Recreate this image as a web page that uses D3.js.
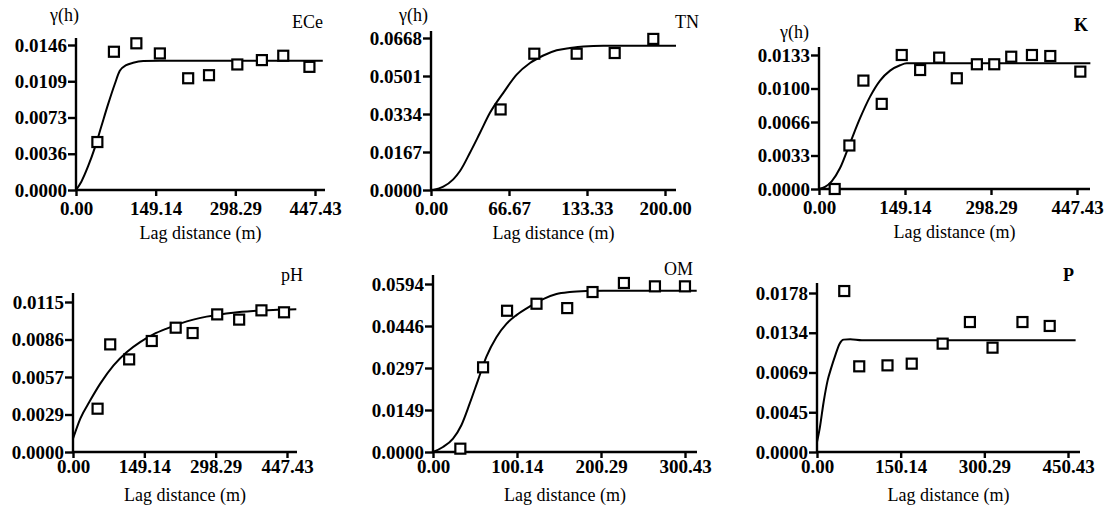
<!DOCTYPE html>
<html>
<head>
<meta charset="utf-8">
<script src="https://cdn.jsdelivr.net/npm/d3@7"></script>
<style>
  body { margin: 0; background: #fff; }
  svg { display: block; }
  text { font-family: "Liberation Serif", "Times New Roman", serif; fill: #000; }
  .tick text { font-size: 19px; font-weight: bold; }
  .tick line { stroke: #000; stroke-width: 2.4; }
</style>
</head>
<body>
<svg id="canvas" width="1109" height="508"></svg>
<script>
// ECe
let eceLag = [40, 71, 113, 157, 210, 249, 302, 348, 388, 437];
let eceGamma = [0.00483, 0.01392, 0.01477, 0.01375, 0.01125, 0.01156, 0.01264, 0.01308, 0.01352, 0.01240];
let eceFitLag = [0, 10, 22.5, 35, 47.5, 60, 72.5, 82, 94, 107, 126, 157, 462];
let eceFitGamma = [0, 0.00084, 0.00237, 0.00422, 0.00642, 0.00862, 0.01065, 0.0120, 0.01257, 0.01281, 0.01298, 0.01301, 0.01301];
let eceXTicks = ['0.00', '149.14', '298.29', '447.43'];
let eceYTicks = ['0.0000', '0.0036', '0.0073', '0.0109', '0.0146'];

// TN
let tnLag = [59.5, 88.3, 124.5, 157, 190];
let tnGamma = [0.0354, 0.0599, 0.0599, 0.0602, 0.0664];
let tnFitLag = [2, 10.5, 19, 24.8, 33.3, 41.9, 50.4, 61.8, 73.2, 84.6, 96, 107.4, 118.8, 130.2, 147.3, 209.4];
let tnFitGamma = [0, 0.00146, 0.00468, 0.00833, 0.01637, 0.02514, 0.0339, 0.0427, 0.0507, 0.0558, 0.0591, 0.0614, 0.0624, 0.0631, 0.0634, 0.0634];
let tnXTicks = ['0.00', '66.67', '133.33', '200.00'];
let tnYTicks = ['0.0000', '0.0167', '0.0334', '0.0501', '0.0668'];

// K
let kLag = [27.2, 52.7, 77, 108.8, 143.5, 175.4, 208.4, 239, 273.8, 303.9, 333.4, 369.3, 401.1, 453.2];
let kGamma = [0, 0.00432, 0.01076, 0.00845, 0.0133, 0.01181, 0.01304, 0.01099, 0.01238, 0.01238, 0.01313, 0.0133, 0.0132, 0.01165];
let kFitLag = [0, 10.4, 22, 36.5, 53.8, 71.2, 88.6, 105.9, 123.3, 140.6, 152.2, 470.6];
let kFitGamma = [0, 0.0002, 0.00076, 0.00208, 0.00455, 0.00703, 0.00917, 0.01076, 0.01175, 0.01228, 0.01247, 0.01247];
let kXTicks = ['0.00', '149.14', '298.29', '447.43'];
let kYTicks = ['0.0000', '0.0033', '0.0066', '0.0100', '0.0133'];

// pH
let phLag = [51.4, 77.8, 117.4, 164.7, 214.7, 250.1, 301.5, 347.4, 394, 441.2];
let phGamma = [0.00332, 0.00825, 0.0071, 0.00851, 0.00953, 0.00912, 0.01055, 0.01015, 0.01086, 0.01071];
let phFitLag = [0, 15.3, 36.1, 57, 84.8, 112.6, 140.3, 168.1, 195.9, 223.7, 251.5, 279.3, 307.1, 334.9, 376.6, 418.3, 466.9];
let phFitGamma = [0.00102, 0.00256, 0.00396, 0.00524, 0.00664, 0.00767, 0.00843, 0.00902, 0.00946, 0.00984, 0.01015, 0.01038, 0.01055, 0.01068, 0.01081, 0.01089, 0.01094];
let phXTicks = ['0.00', '149.14', '298.29', '447.43'];
let phYTicks = ['0.0000', '0.0029', '0.0057', '0.0086', '0.0115'];

// OM
let omLag = [32.6, 59.7, 88.3, 123.4, 160, 190.2, 227.6, 264.6, 300.4];
let omGamma = [0.00118, 0.02994, 0.04994, 0.05242, 0.05088, 0.05656, 0.05976, 0.05857, 0.05857];
let omFitLag = [0, 11.9, 23.9, 33.8, 43.8, 53.7, 63.7, 75.6, 87.5, 99.5, 115.4, 131.3, 147.2, 163.2, 183, 203, 314.4];
let omFitGamma = [0, 0.00177, 0.00473, 0.00947, 0.01716, 0.02544, 0.03372, 0.04059, 0.04532, 0.0484, 0.05147, 0.05408, 0.05585, 0.05656, 0.05692, 0.05703, 0.05703];
let omXTicks = ['0.00', '100.14', '200.29', '300.43'];
let omYTicks = ['0.0000', '0.0149', '0.0297', '0.0446', '0.0594'];

// P
let pLag = [48.9, 75.8, 126.5, 170, 225.5, 274.4, 315, 368.7, 417.6];
let pGamma = [0.01802, 0.00959, 0.0097, 0.00989, 0.01213, 0.01455, 0.01168, 0.01455, 0.01411];
let pFitLag = [0, 4.8, 11.9, 19.1, 25.1, 32.8, 40.6, 47.7, 59.7, 80.5, 464.1];
let pFitGamma = [0.00112, 0.00261, 0.0056, 0.00802, 0.00933, 0.01082, 0.01213, 0.01258, 0.01261, 0.0125, 0.0125];
let pXTicks = ['0.00', '150.14', '300.29', '450.43'];
let pYTicks = ['0.0000', '0.0045', '0.0069', '0.0134', '0.0178'];

let panels = [
  { name: 'ECe', lag: eceLag, gamma: eceGamma, fitLag: eceFitLag, fitGamma: eceFitGamma, xTicks: eceXTicks, yTicks: eceYTicks, yMax: 0.0146 },
  { name: 'TN', lag: tnLag, gamma: tnGamma, fitLag: tnFitLag, fitGamma: tnFitGamma, xTicks: tnXTicks, yTicks: tnYTicks, yMax: 0.0668 },
  { name: 'K', lag: kLag, gamma: kGamma, fitLag: kFitLag, fitGamma: kFitGamma, xTicks: kXTicks, yTicks: kYTicks, yMax: 0.0133 },
  { name: 'pH', lag: phLag, gamma: phGamma, fitLag: phFitLag, fitGamma: phFitGamma, xTicks: phXTicks, yTicks: phYTicks, yMax: 0.0115 },
  { name: 'OM', lag: omLag, gamma: omGamma, fitLag: omFitLag, fitGamma: omFitGamma, xTicks: omXTicks, yTicks: omYTicks, yMax: 0.0594 },
  { name: 'P', lag: pLag, gamma: pGamma, fitLag: pFitLag, fitGamma: pFitGamma, xTicks: pXTicks, yTicks: pYTicks, yMax: 0.0178 }
];

// where each panel sits on the page
let layout = [
  { x0: 76, x1: 315, xEnd: 325, y0: 190, y1: 45, yTop: 38, pad: 6, gx: 79, gy: 21, tx: 323, ty: 28, bold: false },
  { x0: 431, x1: 665, xEnd: 676, y0: 190, y1: 38, yTop: 31, pad: 6, gx: 428, gy: 21, tx: 699, ty: 28, bold: false },
  { x0: 819, x1: 1077, xEnd: 1090, y0: 189, y1: 55, yTop: 47, pad: 6, gx: 809, gy: 38, tx: 1088, ty: 31, bold: true },
  { x0: 73, x1: 287, xEnd: 297, y0: 452, y1: 302, yTop: 293, pad: 2, tx: 303, ty: 281, bold: false },
  { x0: 433, x1: 685, xEnd: 697, y0: 452, y1: 284, yTop: 275, pad: 2, tx: 693, ty: 275, bold: false },
  { x0: 817, x1: 1068, xEnd: 1080, y0: 452, y1: 293, yTop: 283, pad: 2, tx: 1074, ty: 281, bold: true }
];

let canvas = d3.select('#canvas');

let drawPanel = (p, pos) => {
  let xMax = parseFloat(p.xTicks[p.xTicks.length - 1]);
  let xScale = d3.scaleLinear().domain([0, xMax]).range([pos.x0, pos.x1]);
  let yScale = d3.scaleLinear().domain([0, p.yMax]).range([pos.y0, pos.y1]);

  let g = canvas.append('g');

  let xVals = p.xTicks.map((t) => parseFloat(t));
  let yVals = p.yTicks.map((t, i) => p.yMax * i / (p.yTicks.length - 1));

  let xAxis = d3.axisBottom(xScale)
    .tickValues(xVals)
    .tickFormat((d, i) => p.xTicks[i])
    .tickSize(6)
    .tickPadding(pos.pad);
  let yAxis = d3.axisLeft(yScale)
    .tickValues(yVals)
    .tickFormat((d, i) => p.yTicks[i])
    .tickSize(8)
    .tickPadding(1);

  g.append('g')
    .attr('transform', 'translate(0,' + pos.y0 + ')')
    .call(xAxis)
    .attr('font-family', null)
    .attr('font-size', null)
    .call((a) => a.select('.domain').remove());
  g.append('g')
    .attr('transform', 'translate(' + pos.x0 + ',0)')
    .call(yAxis)
    .attr('font-family', null)
    .attr('font-size', null)
    .call((a) => a.select('.domain').remove());

  g.append('line')
    .attr('x1', pos.x0).attr('x2', pos.xEnd)
    .attr('y1', pos.y0).attr('y2', pos.y0)
    .attr('stroke', '#000').attr('stroke-width', 2.4);
  g.append('line')
    .attr('x1', pos.x0).attr('x2', pos.x0)
    .attr('y1', pos.y0).attr('y2', pos.yTop)
    .attr('stroke', '#000').attr('stroke-width', 2.4);

  let fit = p.fitLag.map((h, i) => [h, p.fitGamma[i]]);
  let line = d3.line()
    .x((d) => xScale(d[0]))
    .y((d) => yScale(d[1]))
    .curve(d3.curveMonotoneX);
  g.append('path')
    .attr('d', line(fit))
    .attr('fill', 'none')
    .attr('stroke', '#000')
    .attr('stroke-width', 2);

  g.selectAll('rect.pt')
    .data(p.lag.map((h, i) => [h, p.gamma[i]]))
    .enter()
    .append('rect')
    .attr('class', 'pt')
    .attr('x', (d) => xScale(d[0]) - 5)
    .attr('y', (d) => yScale(d[1]) - 5)
    .attr('width', 10)
    .attr('height', 10)
    .attr('fill', '#fff')
    .attr('stroke', '#000')
    .attr('stroke-width', 2.2);

  g.append('text')
    .attr('x', (pos.x0 + pos.xEnd) / 2)
    .attr('y', pos.y0 + 49)
    .attr('text-anchor', 'middle')
    .style('font-size', '18px')
    .text('Lag distance (m)');

  g.append('text')
    .attr('x', pos.tx)
    .attr('y', pos.ty)
    .attr('text-anchor', 'end')
    .style('font-size', '18px')
    .style('font-weight', pos.bold ? 'bold' : 'normal')
    .text(p.name);

  if (pos.gx) {
    g.append('text')
      .attr('x', pos.gx)
      .attr('y', pos.gy)
      .attr('text-anchor', 'end')
      .style('font-size', '18px')
      .text('γ(h)');
  }
};

panels.forEach((p, i) => drawPanel(p, layout[i]));
</script>
</body>
</html>
